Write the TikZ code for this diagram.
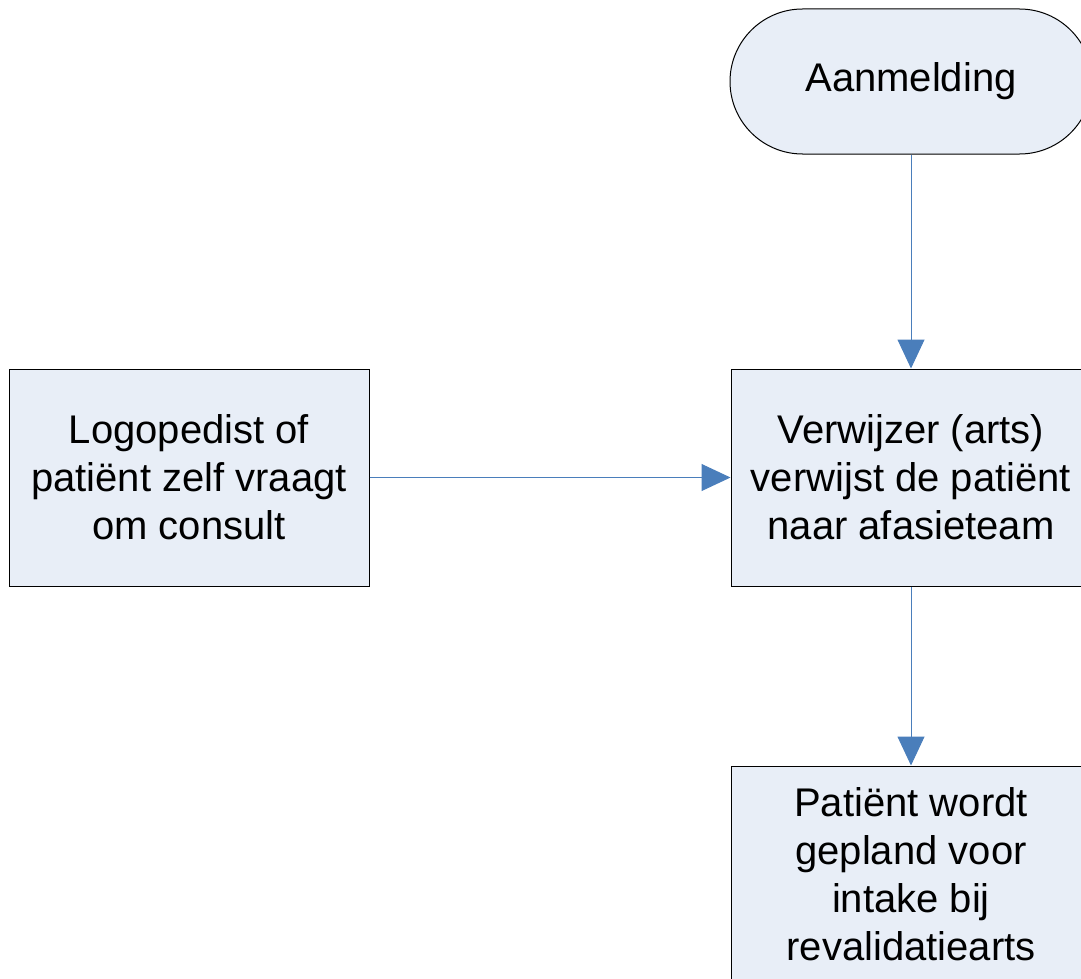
\documentclass[tikz,border=0pt]{standalone}
\usepackage{fontspec}
\setmainfont{Liberation Sans}
\usepackage{tikz}
\usetikzlibrary{arrows.meta,shapes.misc,positioning}
\definecolor{boxfill}{RGB}{232,238,247}
\definecolor{flowblue}{RGB}{74,126,187}
\tikzset{
  stepbox/.style={draw=black, line width=1pt, fill=boxfill, minimum width=360pt,
    minimum height=217pt, inner sep=0pt, align=center,
    font=\fontsize{40}{48}\selectfont},
  startbox/.style={stepbox, rounded rectangle, minimum width=362pt, minimum height=145pt},
  flow/.style={draw=flowblue, line width=1pt, -{Triangle[length=29pt,width=27pt]}}
}
\begin{document}
\begin{tikzpicture}[x=1pt,y=-1pt]
\useasboundingbox (0,0) rectangle (1081,979);
\clip (0,0) rectangle (1081,979);
\node[startbox] (start) at (911,81.5) {Aanmelding};
\node[stepbox] (verw) at (911,477.5) {Verwijzer (arts)\\verwijst de patiënt\\naar afasieteam};
\node[stepbox] (logo) at (189,477.5) {Logopedist of\\patiënt zelf vraagt\\om consult};
\node[stepbox] (plan) at (911,874.5) {Patiënt wordt\\gepland voor\\intake bij\\revalidatiearts};
\draw[flow] (start) to (verw); %aanmelding
\draw[flow] (logo) to (verw); %zelf
\draw[flow] (verw) to (plan); %intake
\end{tikzpicture}
\end{document}
